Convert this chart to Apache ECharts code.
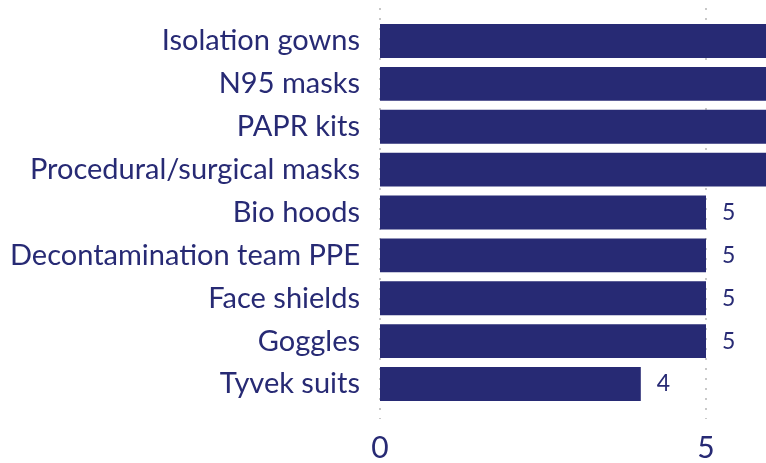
<!DOCTYPE html>
<html>
<head>
<meta charset="utf-8">
<script src="https://cdn.jsdelivr.net/npm/echarts@6/dist/echarts.min.js"></script>
<style>
  html, body { margin: 0; padding: 0; background: #fff; }
  #chart { width: 766px; height: 463px; }
</style>
</head>
<body>
<div id="chart"></div>
<script>
    // categories top to bottom
    var categories = ['Isolation gowns', 'N95 masks', 'PAPR kits', 'Procedural/surgical masks',
        'Bio hoods', 'Decontamination team PPE', 'Face shields', 'Goggles', 'Tyvek suits'];
    // top four run past the right edge, so their exact values can't be read
    var counts = [9, 8, 7, 6, 5, 5, 5, 5, 4];
    var xTicks = [0, 5, 10];

    var navy = '#272a74';
    var font = 'Lato, "Open Sans", sans-serif';

    var chart = echarts.init(document.getElementById('chart'));
    var options = {
        animation: false,
        grid: [
            { left: 380, width: 652, top: 19.5, bottom: 57.5, outerBoundsMode: 'none', containLabel: false },
            // second grid only for the dotted gridlines that run taller than the bars
            { left: 380, width: 652, top: 8, bottom: 44, outerBoundsMode: 'none', containLabel: false }
        ],
        xAxis: [{
            type: 'value', gridIndex: 0,
            min: xTicks[0], max: xTicks[2], interval: 5,
            axisLine: { show: false }, axisTick: { show: false },
            splitLine: { show: false },
            axisLabel: { show: false }
        }, {
            type: 'value', gridIndex: 1,
            min: xTicks[0], max: xTicks[2], interval: 5,
            axisLine: { show: false }, axisTick: { show: false },
            splitLine: { show: true, lineStyle: { color: '#c8c8c8', type: [2, 8], width: 2 } },
            axisLabel: { color: navy, fontSize: 30, fontFamily: font, margin: 14 }
        }],
        yAxis: [{
            type: 'category', gridIndex: 0, inverse: true,
            data: categories,
            axisLine: { show: false }, axisTick: { show: false },
            axisLabel: { color: navy, fontSize: 29, fontFamily: font, margin: 20 }
        }, {
            type: 'value', gridIndex: 1, show: false, min: 0, max: 1
        }],
        series: [{
            type: 'bar',
            xAxisIndex: 0, yAxisIndex: 0,
            data: counts,
            barCategoryGap: '21%',
            itemStyle: { color: navy },
            label: {
                show: true, position: 'right', distance: 16,
                color: navy, fontSize: 23, fontFamily: font
            }
        }]
    };
    chart.setOption(options);
</script>
</body>
</html>
